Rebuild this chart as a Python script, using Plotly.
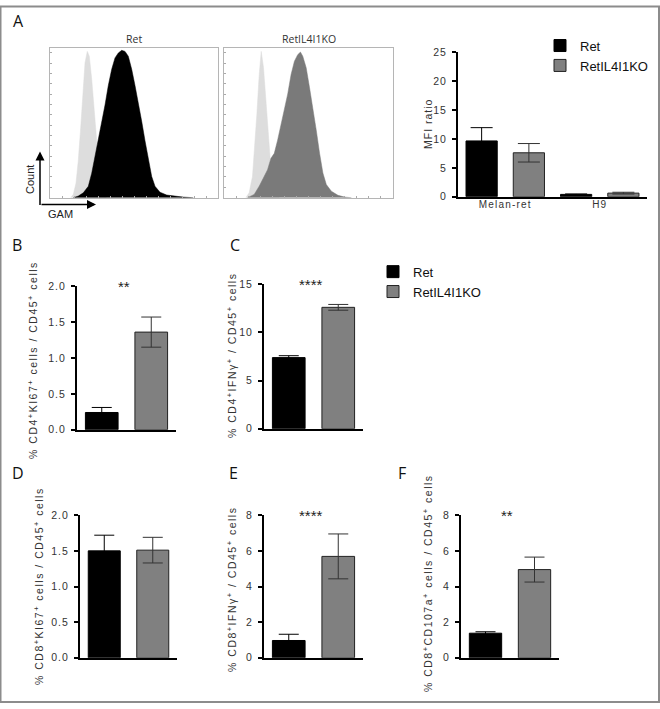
import plotly.graph_objects as go

# Panel A - GAM histograms (fluorescence channel, % of max count)
ret_hist_x = [23.3, 28.3, 33.3, 38.3, 41.7, 45.0, 46.7, 48.3, 51.7, 55.0, 58.3, 61.7, 65.0,
              68.3, 71.7, 75.0, 78.3, 81.7, 85.0, 88.3, 91.7, 95.0, 98.3, 101.7, 105.0,
              110.0, 116.7, 123.3, 133.3, 143.3]
ret_hist_count = [0, 1.1, 3.3, 7.7, 16.5, 27.5, 33.0, 38.5, 49.5, 62.6, 75.8, 86.8, 94.5,
                  97.8, 99.6, 98.9, 95.6, 86.8, 75.8, 64.8, 51.6, 38.5, 25.3, 14.3, 7.7,
                  3.7, 1.8, 1.1, 0.4, 0]
ret_iso_x = [20.7, 23.3, 26.0, 28.3, 30.7, 32.7, 35.0, 37.3, 39.3, 41.7, 43.3, 45.0, 46.7,
             48.3, 50.0, 53.3, 56.7]
ret_iso_count = [0, 2.2, 9.9, 25.3, 47.3, 71.4, 91.2, 98.9, 95.6, 80.2, 64.8, 51.6, 38.5,
                 25.3, 12.0, 1.1, 0]

ko_hist_x = [23.3, 30.0, 35.0, 40.0, 43.3, 46.7, 50.0, 53.3, 56.7, 60.0, 63.3, 66.7, 70.0,
             73.3, 76.0, 78.3, 81.7, 85.0, 88.3, 91.7, 95.0, 98.3, 101.7, 106.7, 113.3,
             120.0, 126.7]
ko_hist_count = [0, 2.2, 7.8, 14.4, 18.9, 26.7, 30.0, 38.9, 50.0, 58.9, 70.0, 83.3, 92.2,
                 96.7, 98.4, 95.6, 87.8, 74.4, 61.1, 45.6, 30.0, 16.7, 8.9, 4.4, 1.6,
                 0.4, 0]
ko_iso_x = [21.7, 25.0, 28.3, 30.7, 32.7, 35.0, 37.0, 39.3, 41.7, 44.0, 46.0, 48.3, 51.7, 55.0]
ko_iso_count = [0, 3.3, 14.4, 34.4, 56.7, 83.3, 98.9, 87.8, 63.3, 41.1, 25.6, 14.4, 3.3, 0]

# Panel A - MFI ratio
mfi_groups = ["Melan-ret", "H9"]
mfi_ret = [9.65, 0.4]
mfi_ret_err = [2.3, 0.08]
mfi_ko = [7.6, 0.62]
mfi_ko_err = [1.6, 0.15]
mfi_ticks = [0, 5, 10, 15, 20, 25]

# Panels B-F
genotypes = ["Ret", "RetIL4I1KO"]
cd4_ki67 = [0.24, 1.36]
cd4_ki67_err = [0.07, 0.21]
cd4_ifng = [7.38, 12.6]
cd4_ifng_err = [0.2, 0.3]
cd8_ki67 = [1.50, 1.51]
cd8_ki67_err = [0.22, 0.18]
cd8_ifng = [0.97, 5.69]
cd8_ifng_err = [0.35, 1.26]
cd8_cd107a = [1.38, 4.95]
cd8_cd107a_err = [0.08, 0.7]
ki67_ticks = ["0.0", "0.5", "1.0", "1.5", "2.0"]
cd4_ifng_ticks = [0, 5, 10, 15]
cd8_ticks = [0, 2, 4, 6, 8]

W, H = 660, 709
BLACK = "#000000"
GREY = "#808080"
FONT = "Liberation Sans, Arial, sans-serif"


def px_x(p):
    return p / W


def px_y(p):
    return 1 - p / H


def spaced(text, ls):
    return '<span style="letter-spacing:%spx">%s</span>' % (ls, text)


fig = go.Figure()

# histograms
for iso_x, iso_c, hx, hc, color, ax in [
    (ret_iso_x, ret_iso_count, ret_hist_x, ret_hist_count, BLACK, ""),
    (ko_iso_x, ko_iso_count, ko_hist_x, ko_hist_count, "#7a7a7a", "2"),
]:
    fig.add_trace(go.Scatter(x=iso_x, y=iso_c, mode="lines", fill="tozeroy",
                             fillcolor="#dddddd", line=dict(color="#dddddd", width=0.5),
                             xaxis="x" + ax, yaxis="y" + ax, showlegend=False,
                             hoverinfo="skip"))
    fig.add_trace(go.Scatter(x=hx, y=hc, mode="lines", fill="tozeroy",
                             fillcolor=color, line=dict(color=color, width=0.5),
                             xaxis="x" + ax, yaxis="y" + ax, showlegend=False,
                             hoverinfo="skip"))

# MFI ratio bars
fig.add_trace(go.Bar(x=mfi_groups, y=mfi_ret, name="Ret", marker=dict(color=BLACK, line=dict(color=BLACK, width=1)),
                     error_y=dict(type="data", array=mfi_ret_err, color=BLACK, thickness=1, width=11),
                     xaxis="x3", yaxis="y3", offsetgroup="ret", legend="legend"))
fig.add_trace(go.Bar(x=mfi_groups, y=mfi_ko, name="RetIL4I1KO", marker=dict(color=GREY, line=dict(color="#222", width=1)),
                     error_y=dict(type="data", array=mfi_ko_err, color="#333", thickness=1, width=11),
                     xaxis="x3", yaxis="y3", offsetgroup="ko", legend="legend"))

panels = [
    (cd4_ki67, cd4_ki67_err, "4"),
    (cd4_ifng, cd4_ifng_err, "5"),
    (cd8_ki67, cd8_ki67_err, "6"),
    (cd8_ifng, cd8_ifng_err, "7"),
    (cd8_cd107a, cd8_cd107a_err, "8"),
]
for vals, errs, ax in panels:
    for i, (name, color, ecol) in enumerate([("Ret", BLACK, BLACK), ("RetIL4I1KO", GREY, "#333")]):
        fig.add_trace(go.Bar(x=[genotypes[i]], y=[vals[i]], name=name,
                             marker=dict(color=color, line=dict(color="#222" if i else BLACK, width=1)),
                             error_y=dict(type="data", array=[errs[i]], color=ecol, thickness=1, width=10),
                             xaxis="x" + ax, yaxis="y" + ax, offsetgroup="one",
                             legend="legend2", showlegend=(ax == "4")))

layout = dict(
    width=W, height=H, margin=dict(l=0, r=0, t=0, b=0),
    paper_bgcolor="white", plot_bgcolor="white",
    font=dict(family=FONT, size=10, color="#333"),
    barmode="group", bargap=0, bargroupgap=0.34,
    legend=dict(x=px_x(540), y=px_y(25), xanchor="left", yanchor="top",
                font=dict(size=13, color="#111"), bgcolor="rgba(0,0,0,0)", tracegroupgap=0),
    legend2=dict(x=px_x(373), y=px_y(255), xanchor="left", yanchor="top",
                 font=dict(size=13, color="#111"), bgcolor="rgba(0,0,0,0)", tracegroupgap=0),
)

# histogram axes
for ax, (x0, x1) in [("", (50, 218)), ("2", (224, 393))]:
    layout["xaxis" + ax] = dict(domain=[px_x(x0), px_x(x1)], range=[0, 168], anchor="y" + ax,
                                showline=True, mirror=True, linecolor="#b5b5b5", linewidth=1,
                                showgrid=False, zeroline=False, showticklabels=False,
                                ticks="inside", ticklen=2, tickcolor="#aaa", dtick=12)
    layout["yaxis" + ax] = dict(domain=[px_y(195), px_y(43)], range=[0, 101], anchor="x" + ax,
                                showline=True, mirror=True, linecolor="#b5b5b5", linewidth=1,
                                showgrid=False, zeroline=False, showticklabels=False,
                                ticks="inside", ticklen=2, tickcolor="#aaa", dtick=7)

bar_axes = {
    "3": ((458, 647), (194, 47), 25, mfi_ticks, True),
    "4": ((77, 176), (431, 285), 2.0, ki67_ticks, False),
    "5": ((264, 363), (430, 283), 15, cd4_ifng_ticks, False),
    "6": ((80, 177), (663, 518), 2.0, ki67_ticks, False),
    "7": ((264, 363), (663, 518), 8, cd8_ticks, False),
    "8": ((461, 559), (663, 518), 8, cd8_ticks, False),
}
for ax, ((x0, x1), (yb, yt), ymax, ticks, labels) in bar_axes.items():
    layout["xaxis" + ax] = dict(domain=[px_x(x0), px_x(x1)], anchor="y" + ax, type="category",
                                showline=True, linecolor=BLACK, linewidth=2, showgrid=False,
                                ticks="", showticklabels=labels,
                                tickfont=dict(size=10, color="#333"))
    layout["yaxis" + ax] = dict(domain=[px_y(yb), px_y(yt)], anchor="x" + ax, range=[0, ymax],
                                tickmode="array", tickvals=[float(t) for t in ticks],
                                ticktext=[spaced(t, 1) for t in ticks],
                                showline=True, linecolor=BLACK, linewidth=2, showgrid=False,
                                zeroline=False, ticks="outside", ticklen=4, tickwidth=1.5,
                                tickcolor=BLACK, tickfont=dict(size=10.5, color="#333"),
                                ticklabelstandoff=3)
layout["xaxis3"].update(tickmode="array", tickvals=mfi_groups, ticklabelstandoff=-3,
                        ticktext=[spaced(g, 1.2) for g in mfi_groups])

fig.update_layout(**layout)


def note(text, x, y, **kw):
    d = dict(text=text, x=px_x(x), y=px_y(y), xref="paper", yref="paper",
             xanchor="center", yanchor="middle", showarrow=False)
    d.update(kw)
    return d


ann = []
# panel letters
for letter, (lx, ly) in {"A": (18, 15), "B": (17, 243), "C": (235, 243),
                         "D": (18, 475), "E": (233, 475), "F": (402, 475)}.items():
    ann.append(note(letter, lx, ly, font=dict(family="Open Sans", size=16, color="#111")))
# histogram titles
for title, ax in [("Ret", "x"), ("RetIL4I1KO", "x2")]:
    ann.append(dict(text=title, x=0.5, xref=ax + " domain", y=px_y(34), yref="paper",
                    xanchor="center", yanchor="middle", showarrow=False,
                    font=dict(family="Open Sans", size=10.5, color="#333")))
# Count / GAM arrows
ann.append(note("", 40, 148, showarrow=True, ax=0, ay=55, arrowhead=2, arrowsize=1.2,
                arrowwidth=1.5, arrowcolor=BLACK))
ann.append(note("", 96, 202, showarrow=True, ax=-56, ay=0, arrowhead=2, arrowsize=1.2,
                arrowwidth=1.5, arrowcolor=BLACK))
ann.append(note("Count", 30, 177, textangle=-90, font=dict(size=11, color="#222")))
ann.append(note("GAM", 60, 212, font=dict(size=11, color="#222")))
# y titles
titles = [
    ("MFI ratio", 428, 120, 1.0),
    ("% CD4<sup>+</sup>KI67<sup>+</sup> cells / CD45<sup>+</sup> cells", 33, 360, 1.5),
    ("% CD4<sup>+</sup>IFNγ<sup>+</sup> / CD45<sup>+</sup> cells", 232, 356, 1.5),
    ("% CD8<sup>+</sup>KI67<sup>+</sup> cells / CD45<sup>+</sup> cells", 38, 590, 1.5),
    ("% CD8<sup>+</sup>IFNγ<sup>+</sup> / CD45<sup>+</sup> cells", 232, 594, 1.5),
    ("% CD8<sup>+</sup>CD107a<sup>+</sup> cells / CD45<sup>+</sup> cells", 427, 587, 1.5),
]
for text, tx, ty, ls in titles:
    ann.append(note(spaced(text, ls), tx, ty, textangle=-90, font=dict(size=10.5, color="#333")))
# significance
for stars, ax, ymax in [("**", "4", 2.0), ("****", "5", 15), ("****", "7", 8), ("**", "8", 8)]:
    ann.append(dict(text=stars, x=0.47, xref="x" + ax + " domain", y=ymax, yref="y" + ax,
                    xanchor="center", yanchor="middle", showarrow=False, yshift=0,
                    font=dict(size=15, color="#222")))
fig.update_layout(annotations=ann)

fig.add_shape(type="rect", xref="paper", yref="paper", x0=0.5 / W, x1=1 - 1 / W,
              y0=1 / H, y1=1 - 0.5 / H, line=dict(color="#8c8c8c", width=2))

fig.write_html("out.html", config={"displayModeBar": False},
               post_script="document.body.style.margin='0';"
                           "document.body.style.overflow='hidden';")
